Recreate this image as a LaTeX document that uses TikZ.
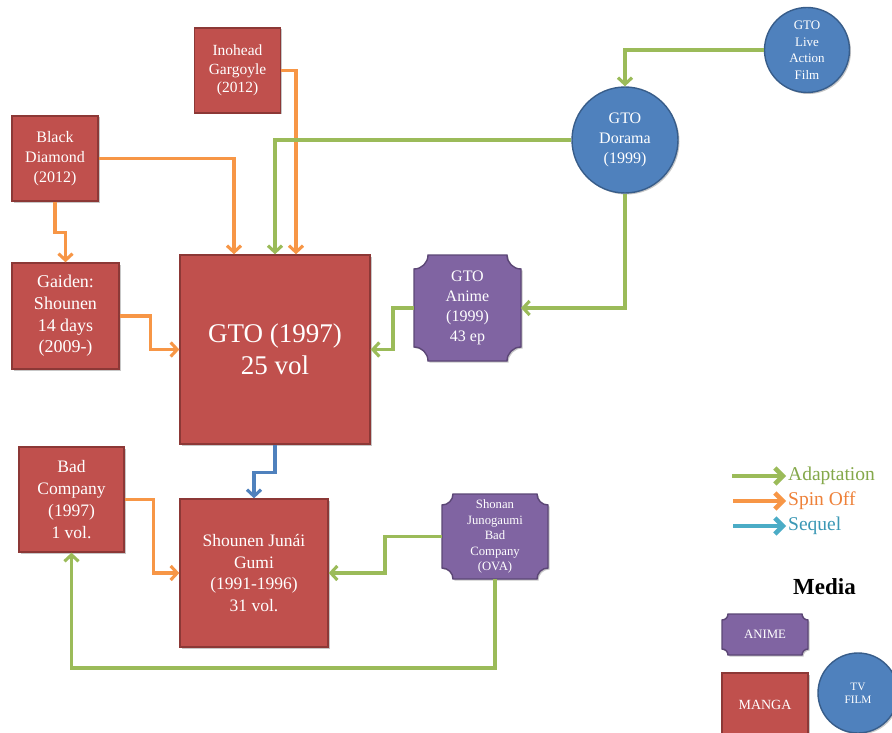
\documentclass[tikz,border=0pt]{standalone}
\usepackage{fontspec}
\setmainfont{Liberation Serif}
\usetikzlibrary{arrows.meta,calc,shadows,backgrounds}

\definecolor{mangared}{HTML}{C0504D}
\definecolor{mangaedge}{HTML}{8C3836}
\definecolor{tvblue}{HTML}{4F81BD}
\definecolor{tvedge}{HTML}{385D8A}
\definecolor{animepurple}{HTML}{8064A2}
\definecolor{animeedge}{HTML}{5C4776}
\definecolor{adaptgreen}{HTML}{9BBB59}
\definecolor{spinorange}{HTML}{F79646}
\definecolor{seqblue}{HTML}{4F81BD}
\definecolor{seqteal}{HTML}{4BACC6}
\definecolor{adapttext}{HTML}{84A84A}
\definecolor{spintext}{HTML}{EE8139}
\definecolor{seqtext}{HTML}{3B98B5}

% plaque outline (rectangle with concave corners) around a named node
% #1 node, #2 corner radius, #3 offset
\newcommand{\plaqueshape}[3]{%
  ($(#1.north west)+(#2,0)+#3$) -- ($(#1.north east)+(-#2,0)+#3$)
  arc[start angle=180,end angle=270,radius=#2]
  -- ($(#1.south east)+(0,#2)+#3$)
  arc[start angle=90,end angle=180,radius=#2]
  -- ($(#1.south west)+(#2,0)+#3$)
  arc[start angle=0,end angle=90,radius=#2]
  -- ($(#1.north west)+(0,-#2)+#3$)
  arc[start angle=270,end angle=360,radius=#2]
  -- cycle}

\tikzset{
  softshadow/.style={drop shadow={shadow xshift=1.5pt,shadow yshift=-1.5pt,opacity=0.22,fill=black}},
  manga/.style={rectangle, fill=mangared, draw=mangaedge, line width=1.4,
    text=white, align=center, inner sep=2, softshadow},
  tvnode/.style={circle, fill=tvblue, draw=tvedge, line width=1.4,
    text=white, align=center, inner sep=0, softshadow},
  animenode/.style={rectangle, text=white, align=center, inner sep=2, outer sep=0},
  link/.style={line width=3.1, -{Straight Barb[length=6.5,width=14]}},
  adapt/.style={link, draw=adaptgreen},
  spin/.style={link, draw=spinorange},
  seq/.style={link, draw=seqblue},
  keyarrow/.style={line width=4.5, -{Straight Barb[length=8,width=16]}},
  fs/.style 2 args={font=\fontsize{#1}{#2}\selectfont},
}

\begin{document}
\begin{tikzpicture}[x=1pt,y=1pt]
\useasboundingbox (0,0) rectangle (892,-733);

% ---------- manga ----------
\node[manga, minimum width=86, minimum height=85, fs={15.5}{18.5}] (ino) at (237.5,-70.5)
  {Inohead\\Gargoyle\\(2012)};
\node[manga, minimum width=86, minimum height=85, fs={16}{20}] (bd) at (55,-158.5)
  {Black\\Diamond\\(2012)};
\node[manga, minimum width=107, minimum height=106, fs={18}{21.7}] (gai) at (65.5,-316)
  {Gaiden:\\Shounen\\14 days\\(2009-)};
\node[manga, minimum width=190, minimum height=189, fs={27}{32}] (gto) at (275,-349.5)
  {GTO (1997)\\25 vol};
\node[manga, minimum width=105, minimum height=105, fs={17.5}{21.7}] (bc) at (71.5,-499.5)
  {Bad\\Company\\(1997)\\1 vol.};
\node[manga, minimum width=148, minimum height=148, fs={17.5}{21.5}] (sjg) at (254,-573)
  {Shounen Junái\\Gumi\\(1991-1996)\\31 vol.};

% ---------- live action ----------
\node[tvnode, minimum size=106, fs={16}{20}] (dor) at (625,-140)
  {GTO\\Dorama\\(1999)};
\node[tvnode, minimum size=85, fs={13}{16.5}] (live) at (807,-50)
  {GTO\\Live\\Action\\Film};

% ---------- anime ----------
\node[animenode, minimum width=107, minimum height=106, fs={16}{20}] (an) at (467.5,-308)
  {GTO\\Anime\\(1999)\\43 ep};
\node[animenode, minimum width=106, minimum height=85, fs={12.7}{15.5}] (sho) at (495,-536.5)
  {Shonan\\Junogaumi\\Bad\\Company\\(OVA)};

% ---------- key ----------
\node[fs={19.5}{22}, text=adapttext, anchor=west, inner sep=2] (kad) at (786,-476) {Adaptation};
\node[fs={19.5}{22}, text=spintext, anchor=west, inner sep=2] (ksp) at (786,-501) {Spin Off};
\node[fs={19.5}{22}, text=seqtext, anchor=west, inner sep=2] (ksq) at (786,-526) {Sequel};
\coordinate (kad0) at (732,-476);
\coordinate (ksp0) at (733,-501);
\coordinate (ksq0) at (733,-526);

\node[font=\fontsize{23}{26}\selectfont\bfseries] (media) at (824.5,-587) {Media};
\node[animenode, minimum width=86, minimum height=41, fs={12.8}{14}] (kan) at (765,-634.5) {ANIME};
\node[manga, minimum width=86, minimum height=64, fs={14}{16}] (kma) at (765,-705) {MANGA};
\node[tvnode, minimum size=80, fs={11.3}{13}] (ktv) at (858,-693) {TV\\FILM};

% white page and anime plaques, behind the labels
\begin{scope}[on background layer]
  \fill[white] (0,0) rectangle (892,-733);
  \fill[black, opacity=0.22] \plaqueshape{an}{14}{(1.5,-1.5)};
  \filldraw[fill=animepurple, draw=animeedge, line width=1.4] \plaqueshape{an}{14}{(0,0)};
  \fill[black, opacity=0.22] \plaqueshape{sho}{11}{(1.5,-1.5)};
  \filldraw[fill=animepurple, draw=animeedge, line width=1.4] \plaqueshape{sho}{11}{(0,0)};
  \fill[black, opacity=0.22] \plaqueshape{kan}{6}{(1.5,-1.5)};
  \filldraw[fill=animepurple, draw=animeedge, line width=1.4] \plaqueshape{kan}{6}{(0,0)};
\end{scope}

% ---------- connectors ----------
\draw[spin] (ino.east) -| ([xshift=21]gto.north);
\draw[spin] (bd.east) -| ([xshift=-41]gto.north);
\draw[adapt] (dor.west) -| (gto.north);
\draw[spin] (bd.south) -- ++(0,-31) -| (gai.north);
\draw[spin] (gai.east) -- ++(31,0) |- (gto.west);
\draw[adapt] (an.west) -- ++(-21,0) |- (gto.east);
\draw[adapt] (live.west) -| (dor.north);
\draw[adapt] (dor.south) |- (an.east);
\draw[seq] (gto.south) -- ++(0,-28) -| (sjg.north);
\draw[spin] (bc.east) -- ++(28.5,0) |- (sjg.west);
\draw[adapt] (sho.west) -- ++(-57,0) |- (sjg.east);
\draw[adapt] (sho.south) -- ++(0,-89) -| (bc.south);

% key arrows
\draw[keyarrow, draw=adaptgreen] (kad0) -- (kad.west);
\draw[keyarrow, draw=spinorange] (ksp0) -- (ksp.west);
\draw[keyarrow, draw=seqteal] (ksq0) -- (ksq.west);
\end{tikzpicture}
\end{document}
